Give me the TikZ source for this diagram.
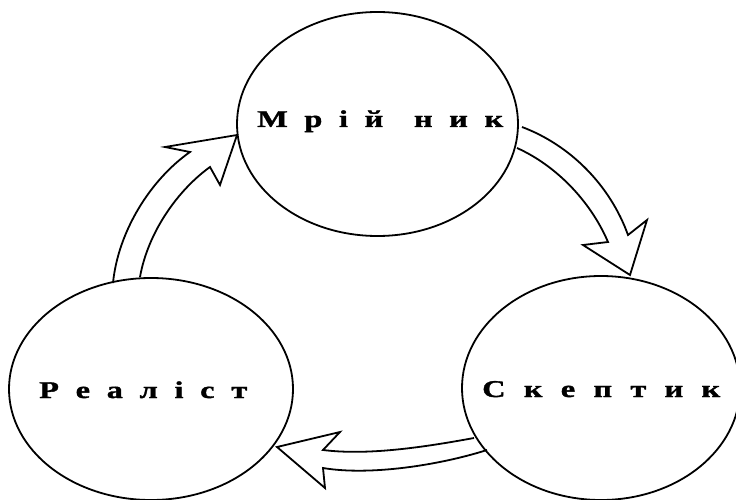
\documentclass[tikz,border=0pt]{standalone}
\usepackage{fontspec}
\usetikzlibrary{shapes.geometric}
\newfontfamily\lbl{Liberation Serif}[FakeStretch=1.35,FakeBold=1.5]
\begin{document}
\begin{tikzpicture}[x=1pt,y=-1pt,
  rolecircle/.style={draw, ellipse, line width=1.8pt, inner sep=0pt},
  rolelabel/.style={anchor=base west, inner sep=0pt, font=\lbl\bfseries\fontsize{24}{26}\selectfont},
  blockarrow/.style={draw, line width=1.8pt, line join=miter}]
\useasboundingbox (0,0) rectangle (736,500);
\node[rolecircle, minimum width=281pt, minimum height=224pt] (dream) at (377.5,124) {};
\node[rolecircle, minimum width=284pt, minimum height=222pt] (real) at (151,389) {};
\node[rolecircle, minimum width=278pt, minimum height=224pt] (skep) at (601,388) {};
\node[rolelabel] (tdream) at (257,127) {\hbox to 246pt{М\hfil р\hfil і\hfil й\hfil\ \hskip 6pt н\hfil и\hfil к}};
\node[rolelabel] (treal) at (39,398) {\hbox to 208pt{Р\hfil е\hfil а\hfil л\hfil і\hfil с\hfil т}};
\node[rolelabel] (tskep) at (482,397) {\hbox to 238pt{С\hfil к\hfil е\hfil п\hfil т\hfil и\hfil к}};
% Realist -> Dreamer
\draw[blockarrow] (113,283) .. controls (118,232) and (150,180) .. (190,152)
  -- (165,147) -- (237,135) -- (220,185) -- (210,167)
  .. controls (178,190) and (148,232) .. (140,277);
% Dreamer -> Sceptic
\draw[blockarrow] (522,127) .. controls (570,145) and (610,185) .. (628,235)
  -- (647,220) -- (630,275) -- (583,245) -- (608,242)
  .. controls (590,200) and (555,165) .. (517,148);
% Sceptic -> Realist
\draw[blockarrow] (474,438) .. controls (430,446) and (370,456) .. (323,450)
  -- (340,432) -- (277,447) -- (325,488) -- (323,468)
  .. controls (370,476) and (440,465) .. (487,450);
\end{tikzpicture}
\end{document}
